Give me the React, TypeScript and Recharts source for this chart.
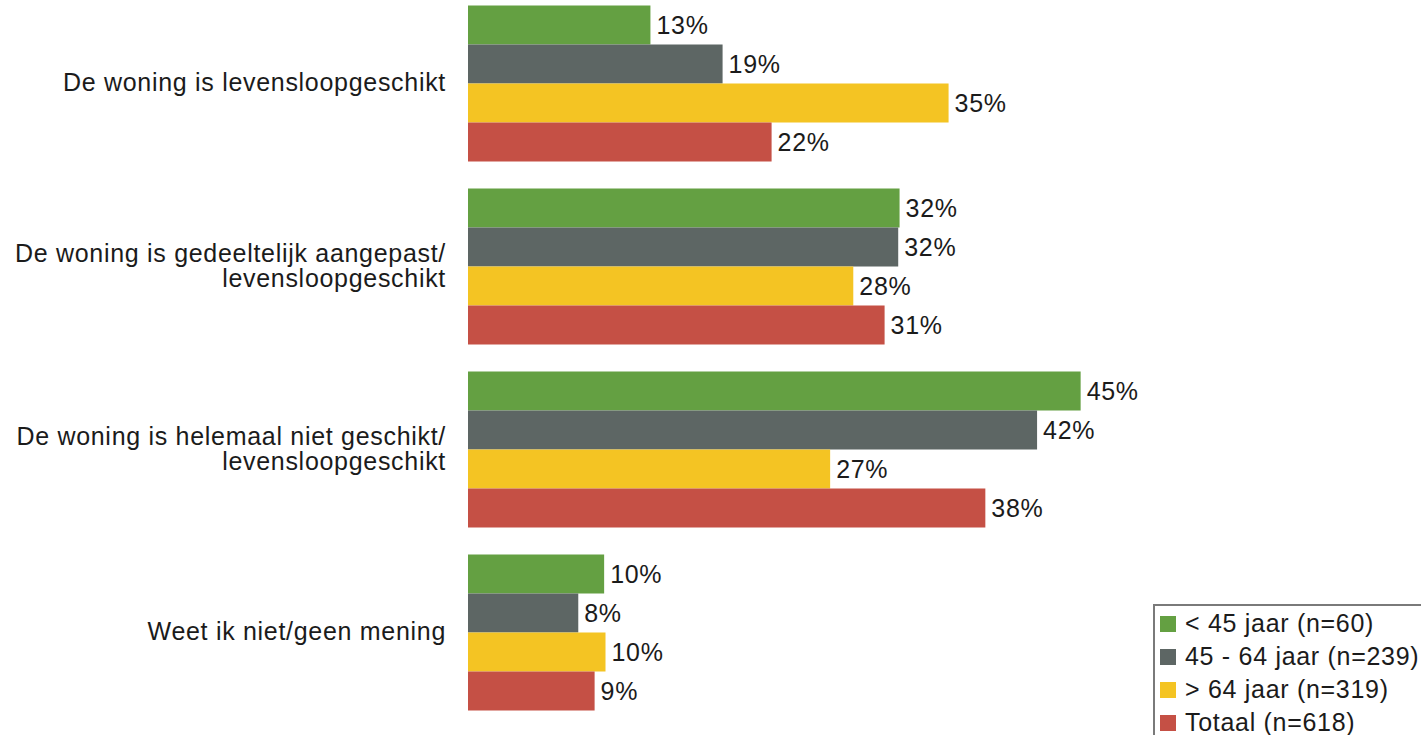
import { Bar, BarChart, LabelList, XAxis, YAxis } from "recharts";

const categories = [
  "De woning is levensloopgeschikt",
  "De woning is gedeeltelijk aangepast/\nlevensloopgeschikt",
  "De woning is helemaal niet geschikt/\nlevensloopgeschikt",
  "Weet ik niet/geen mening",
];

const jonger45 = [13.4, 31.7, 45.0, 10.0];
const tussen45en64 = [18.7, 31.6, 41.8, 8.1];
const ouder64 = [35.3, 28.3, 26.6, 10.1];
const totaal = [22.3, 30.6, 38.0, 9.3];

const series = [
  { key: "jong", name: "< 45 jaar (n=60)", color: "#64A042", values: jonger45 },
  { key: "midden", name: "45 - 64 jaar (n=239)", color: "#5D6664", values: tussen45en64 },
  { key: "oud", name: "> 64 jaar (n=319)", color: "#F4C423", values: ouder64 },
  { key: "totaal", name: "Totaal (n=618)", color: "#C55045", values: totaal },
];

const data = categories.map((name, i) => {
  const row: Record<string, string | number> = { name };
  series.forEach((s) => (row[s.key] = s.values[i]));
  return row;
});

const FONT = "'Liberation Sans', Arial, sans-serif";
const TEXT = "#1b1b1b";
const FS = 25;
const LS = 0.7;

function CategoryTick(props: any) {
  const { x, y, payload } = props;
  const lines = String(payload.value).split("\n");
  const lineH = 25;
  const first = 8.5 - ((lines.length - 1) * lineH) / 2;
  return (
    <text
      x={x}
      y={y}
      textAnchor="end"
      fill={TEXT}
      fontSize={FS}
      fontFamily={FONT}
      letterSpacing={LS}
    >
      {lines.map((l, i) => (
        <tspan key={i} x={x} dy={i === 0 ? first : lineH}>
          {l}
        </tspan>
      ))}
    </text>
  );
}

function LegendBox() {
  return (
    <div
      style={{
        position: "absolute",
        left: 1153,
        top: 604,
        border: "2px solid #7a7a7a",
        padding: "1px 12px 6px 5px",
        background: "#fff",
        fontFamily: FONT,
        fontSize: FS,
        letterSpacing: LS,
        color: TEXT,
      }}
    >
      {series.map((s) => (
        <div key={s.key} style={{ display: "flex", alignItems: "center", height: 33 }}>
          <span style={{ width: 16, height: 16, background: s.color, marginRight: 9 }} />
          <span style={{ whiteSpace: "nowrap" }}>{s.name}</span>
        </div>
      ))}
    </div>
  );
}

export default function App() {
  return (
    <div
      style={{
        position: "absolute",
        left: 0,
        top: 0,
        width: 1421,
        height: 735,
        overflow: "hidden",
        background: "#fff",
      }}
    >
      <BarChart
        width={1421}
        height={735}
        data={data}
        layout="vertical"
        margin={{ top: -9, right: 0, bottom: 12, left: 0 }}
        barCategoryGap={14.5}
        barGap={0}
      >
        <XAxis type="number" domain={[0, 70]} hide />
        <YAxis
          type="category"
          dataKey="name"
          width={468}
          axisLine={false}
          tickLine={false}
          tickSize={0}
          tickMargin={22}
          tick={<CategoryTick />}
          interval={0}
        />
        {series.map((s) => (
          <Bar key={s.key} dataKey={s.key} name={s.name} fill={s.color} isAnimationActive={false}>
            <LabelList
              dataKey={s.key}
              position="right"
              offset={6}
              fill={TEXT}
              fontSize={FS}
              fontFamily={FONT}
              letterSpacing={LS}
              formatter={(v: any) => `${Math.round(Number(v))}%`}
            />
          </Bar>
        ))}
      </BarChart>
      <LegendBox />
    </div>
  );
}
